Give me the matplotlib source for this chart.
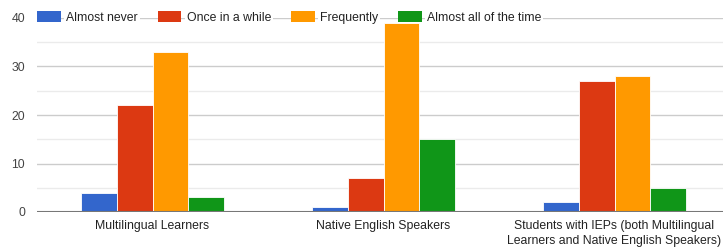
import numpy as np
import matplotlib.pyplot as plt
from matplotlib.patches import Patch

categories = ["Multilingual Learners", "Native English Speakers",
              "Students with IEPs (both Multilingual\nLearners and Native English Speakers)"]
series = ["Almost never", "Once in a while", "Frequently", "Almost all of the time"]
almost_never = [4, 1, 2]
once_in_a_while = [22, 7, 27]
frequently = [33, 39, 28]
almost_all = [3, 15, 5]
colors = ["#3366cc", "#dc3912", "#ff9900", "#109618"]

plt.rcParams['font.family'] = ['Liberation Sans', 'DejaVu Sans']
fs = 8.8

fig = plt.figure(figsize=(7.23, 2.52), dpi=100)
ax = fig.add_axes([37 / 723, 40 / 252, 693 / 723, 194 / 252])

x = np.arange(len(categories))
w = 0.154
values = [almost_never, once_in_a_while, frequently, almost_all]
for i, (vals, c) in enumerate(zip(values, colors)):
    ax.bar(x + (i - 1.5) * w, vals, w, color=c, edgecolor="white", linewidth=0.6, zorder=3)

ax.set_xlim(-0.5, 2.5)
ax.set_ylim(0, 40)
ax.set_yticks([0, 10, 20, 30, 40])
ax.set_yticks([5, 15, 25, 35], minor=True)
ax.grid(axis="y", which="major", color="#cccccc", linewidth=1, zorder=0)
ax.grid(axis="y", which="minor", color="#ebebeb", linewidth=1, zorder=0)
ax.axhline(0, color="#777777", linewidth=1.5, zorder=4)
for s in ax.spines.values():
    s.set_visible(False)
ax.tick_params(axis="both", which="both", length=0, labelsize=fs, colors="#444444")
ax.tick_params(axis="x", pad=6, labelcolor="#222222")
ax.tick_params(axis="y", pad=8.6)
ax.set_xticks(x)
ax.set_xticklabels(categories, linespacing=1.25)

handles = [Patch(facecolor=c, edgecolor="none") for c in colors]
leg = fig.legend(handles, series, ncol=4, frameon=False, loc="center left",
                 bbox_to_anchor=(37 / 723, 1 - 17.5 / 252), fontsize=fs,
                 handlelength=1.96, handleheight=0.95, handletextpad=0.42,
                 columnspacing=1.62, borderpad=0, borderaxespad=0)
for t in leg.get_texts():
    t.set_color("#222222")
    t.set_bbox(dict(facecolor="white", edgecolor="none", pad=1.5))

fig.savefig("out.png", dpi=100)
